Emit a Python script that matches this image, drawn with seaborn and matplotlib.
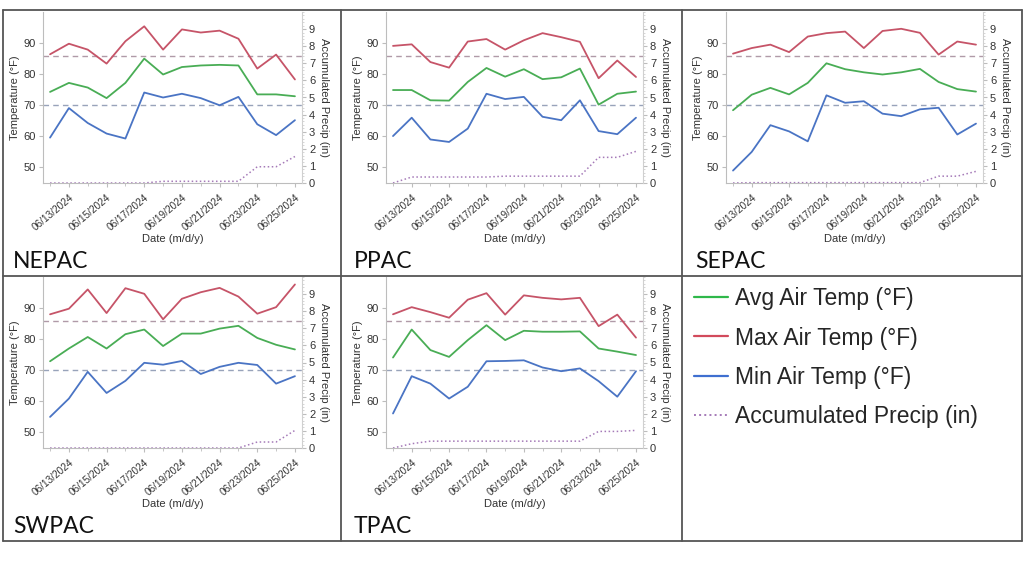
import numpy as np
import pandas as pd
import matplotlib
matplotlib.use("Agg")
import matplotlib.pyplot as plt
import matplotlib.dates as mdates
from matplotlib.ticker import MultipleLocator
from matplotlib.lines import Line2D
import seaborn as sns

# ---------------- data ----------------
dates = pd.date_range("2024-06-12", "2024-06-25", freq="D")
regions = ["NEPAC", "PPAC", "SEPAC", "SWPAC", "TPAC"]

nepac_max = [86.4, 89.8, 87.9, 83.4, 90.6, 95.4, 87.9, 94.4, 93.4, 94.0, 91.4, 81.8, 86.3, 78.3]
nepac_avg = [74.3, 77.2, 75.7, 72.3, 77.2, 85.0, 79.9, 82.3, 82.8, 83.0, 82.8, 73.5, 73.5, 72.9]
nepac_min = [59.6, 69.1, 64.3, 60.9, 59.3, 74.1, 72.5, 73.7, 72.3, 70.0, 72.7, 63.9, 60.4, 65.2]
nepac_pcp = [0.0, 0.0, 0.0, 0.0, 0.0, 0.0, 0.1, 0.1, 0.1, 0.1, 0.1, 0.95, 0.95, 1.55]

ppac_max = [89.1, 89.6, 83.9, 82.1, 90.5, 91.3, 87.9, 90.9, 93.2, 91.9, 90.4, 78.7, 84.4, 79.1]
ppac_avg = [74.9, 74.9, 71.6, 71.5, 77.5, 82.0, 79.2, 81.6, 78.4, 79.0, 81.8, 70.2, 73.7, 74.4]
ppac_min = [60.1, 66.0, 59.0, 58.2, 62.5, 73.7, 72.0, 72.7, 66.3, 65.2, 71.6, 61.7, 60.7, 66.0]
ppac_pcp = [0.0, 0.35, 0.35, 0.35, 0.35, 0.35, 0.4, 0.4, 0.4, 0.4, 0.4, 1.5, 1.5, 1.85]

sepac_max = [86.6, 88.4, 89.5, 87.1, 92.1, 93.2, 93.7, 88.4, 93.9, 94.6, 93.3, 86.3, 90.5, 89.5]
sepac_avg = [68.4, 73.4, 75.6, 73.5, 77.2, 83.5, 81.6, 80.6, 79.9, 80.6, 81.7, 77.5, 75.2, 74.4]
sepac_min = [49.0, 55.0, 63.6, 61.6, 58.4, 73.2, 70.8, 71.3, 67.3, 66.5, 68.7, 69.2, 60.6, 64.1]
sepac_pcp = [0.0, 0.02, 0.02, 0.02, 0.02, 0.02, 0.02, 0.02, 0.02, 0.02, 0.02, 0.4, 0.4, 0.68]

swpac_max = [88.0, 89.8, 96.0, 88.4, 96.4, 94.6, 86.4, 93.0, 95.1, 96.5, 93.7, 88.2, 90.3, 97.6]
swpac_avg = [72.9, 77.0, 80.7, 77.0, 81.6, 83.1, 77.8, 81.8, 81.8, 83.4, 84.3, 80.4, 78.2, 76.7]
swpac_min = [55.0, 60.9, 69.5, 62.7, 66.6, 72.4, 71.8, 73.0, 68.8, 71.1, 72.4, 71.7, 65.7, 68.1]
swpac_pcp = [0.0, 0.0, 0.0, 0.0, 0.0, 0.0, 0.0, 0.0, 0.0, 0.0, 0.0, 0.35, 0.35, 1.03]

tpac_max = [88.0, 90.3, 88.7, 86.9, 92.7, 94.8, 87.9, 94.1, 93.3, 92.8, 93.3, 84.2, 87.9, 80.5]
tpac_avg = [74.1, 83.1, 76.5, 74.3, 79.7, 84.5, 79.7, 82.7, 82.4, 82.4, 82.5, 77.0, 76.0, 74.9]
tpac_min = [56.1, 68.1, 65.7, 60.9, 64.7, 72.9, 73.0, 73.2, 70.9, 69.7, 70.6, 66.5, 61.5, 69.7]
tpac_pcp = [0.0, 0.25, 0.4, 0.4, 0.4, 0.4, 0.4, 0.4, 0.4, 0.4, 0.4, 0.97, 0.97, 1.03]

series = {
    "NEPAC": (nepac_avg, nepac_max, nepac_min, nepac_pcp),
    "PPAC": (ppac_avg, ppac_max, ppac_min, ppac_pcp),
    "SEPAC": (sepac_avg, sepac_max, sepac_min, sepac_pcp),
    "SWPAC": (swpac_avg, swpac_max, swpac_min, swpac_pcp),
    "TPAC": (tpac_avg, tpac_max, tpac_min, tpac_pcp),
}
legend_labels = ["Avg Air Temp (°F)", "Max Air Temp (°F)", "Min Air Temp (°F)", "Accumulated Precip (in)"]
hot_threshold = 86
cool_threshold = 70

# ---------------- style ----------------
sns.set_style("white")
plt.rcParams["font.family"] = ["Liberation Sans", "DejaVu Sans"]

C_AVG = "#49ad55"
C_MAX = "#c65468"
C_MIN = "#4a74c4"
C_PCP = "#a57ab8"
SPINE = "#bdbdbd"
TXT = "#333333"

W, H = 1024, 576
fig = plt.figure(figsize=(W / 100, H / 100), dpi=100)
fig.patch.set_facecolor("white")

def fax(l, t, r, b):
    return [l / W, 1 - b / H, (r - l) / W, (b - t) / H]

boxes = {
    "NEPAC": (43, 12, 302, 183),
    "PPAC": (386, 12, 643, 183),
    "SEPAC": (726, 12, 983, 183),
    "SWPAC": (43, 277, 302, 448),
    "TPAC": (386, 277, 643, 448),
}
label_pos = {
    "NEPAC": (13, 268), "PPAC": (354, 268), "SEPAC": (695, 268),
    "SWPAC": (13, 533), "TPAC": (354, 533),
}

for reg in regions:
    avg, mx, mn, pcp = series[reg]
    df = pd.DataFrame({"date": dates, "avg": avg, "max": mx, "min": mn, "pcp": pcp})
    ax = fig.add_axes(fax(*boxes[reg]))
    ax.axhline(hot_threshold, color="#b09aa8", lw=1.0, dashes=(4, 3), zorder=1)
    ax.axhline(cool_threshold, color="#98a3ba", lw=1.0, dashes=(4, 3), zorder=1)
    sns.lineplot(data=df, x="date", y="max", ax=ax, color=C_MAX, lw=1.3)
    sns.lineplot(data=df, x="date", y="avg", ax=ax, color=C_AVG, lw=1.3)
    sns.lineplot(data=df, x="date", y="min", ax=ax, color=C_MIN, lw=1.3)
    ax.set_ylim(45, 100)
    ax.set_xlim(dates[0] - pd.Timedelta(hours=9), dates[-1] + pd.Timedelta(hours=9))
    ax.set_yticks([50, 60, 70, 80, 90])
    ax.xaxis.set_major_locator(mdates.DayLocator(bymonthday=range(13, 26, 2)))
    ax.xaxis.set_minor_locator(mdates.DayLocator())
    ax.xaxis.set_major_formatter(mdates.DateFormatter("%m/%d/%Y"))
    for lab in ax.get_xticklabels():
        lab.set_rotation(40)
        lab.set_ha("right")
        lab.set_rotation_mode("anchor")
    ax.tick_params(axis="y", which="major", labelsize=8, colors=SPINE, labelcolor=TXT, length=3, width=0.8, left=True, pad=2)
    ax.tick_params(axis="x", which="major", labelsize=7.2, colors=SPINE, labelcolor=TXT, length=3, width=0.8, bottom=True)
    ax.tick_params(axis="x", which="minor", length=2, colors=SPINE, bottom=True)
    ax.set_xlabel("Date (m/d/y)", fontsize=8, color=TXT, labelpad=1)
    ax.set_ylabel("Temperature (°F)", fontsize=8, color=TXT, labelpad=3)
    for s in ["top", "right"]:
        ax.spines[s].set_visible(False)
    for s in ["left", "bottom"]:
        ax.spines[s].set_color(SPINE)
        ax.spines[s].set_linewidth(0.8)

    ax2 = ax.twinx()
    sns.lineplot(data=df, x="date", y="pcp", ax=ax2, color=C_PCP, lw=1.1, linestyle=":")
    ax2.set_ylim(0, 10)
    ax2.set_yticks(range(0, 10))
    ax2.yaxis.set_minor_locator(MultipleLocator(0.2))
    ax2.tick_params(axis="y", which="major", labelsize=8, colors=SPINE, labelcolor=TXT, length=3, width=0.8, right=True, pad=2)
    ax2.tick_params(axis="y", which="minor", length=1.5, colors="#d0d0d0", right=True)
    ax2.set_ylabel("Accumulated Precip (in)", fontsize=8, color=TXT, rotation=270, labelpad=10)
    for s in ["top", "left", "bottom"]:
        ax2.spines[s].set_visible(False)
    ax2.spines["right"].set_color("#d0d0d0")
    ax2.spines["right"].set_linewidth(0.8)
    ax2.set_xlabel("")

    lx, ly = label_pos[reg]
    fig.text(lx / W, 1 - ly / H, reg, fontsize=16.5, family=["Lato", "DejaVu Sans"], va="baseline", ha="left", color="#111111")

# table grid
grid_kw = dict(color="#555555", lw=1.3, transform=fig.transFigure, zorder=10)
def hline(y, x0, x1):
    fig.add_artist(Line2D([x0 / W, x1 / W], [1 - y / H, 1 - y / H], **grid_kw))
def vline(x, y0, y1):
    fig.add_artist(Line2D([x / W, x / W], [1 - y0 / H, 1 - y1 / H], **grid_kw))
hline(10, 3, 1022)
hline(276, 3, 1022)
hline(541, 3, 1022)
vline(3, 10, 541)
vline(341, 10, 541)
vline(682, 10, 541)
vline(1022, 10, 541)

# legend
handles = [
    Line2D([], [], color="#2fb84a", lw=1.6),
    Line2D([], [], color="#d24a5c", lw=1.6),
    Line2D([], [], color="#3f6fd0", lw=1.6),
    Line2D([], [], color=C_PCP, lw=1.4, linestyle=":"),
]
fig.legend(handles, legend_labels, loc="upper left", bbox_to_anchor=(694 / W, 1 - 287 / H),
           frameon=False, fontsize=16.5, handlelength=1.5, handletextpad=0.3, labelspacing=0.72,
           borderaxespad=0, borderpad=0)

fig.savefig("out.png", dpi=100)
